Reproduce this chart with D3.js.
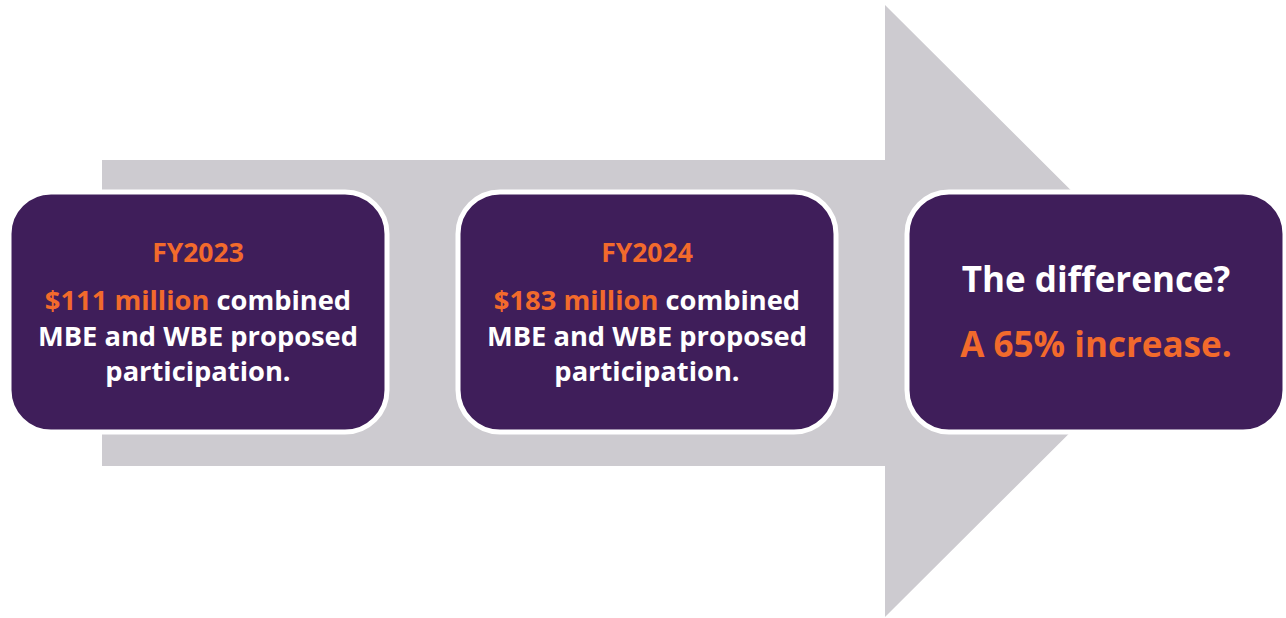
<!DOCTYPE html>
<html>
<head>
<meta charset="utf-8">
<script src="https://cdn.jsdelivr.net/npm/d3@7"></script>
<style>
  body { margin: 0; background: #fff; }
  svg { display: block; }
  text { font-family: "Open Sans", "Noto Sans", sans-serif; font-weight: 700; }
</style>
</head>
<body>
<script>
// stages along the arrow
const STAGES = ["FY2023", "FY2024", "Difference"];
const YEARS = ["FY2023", "FY2024"];
const AMOUNTS = [111, 183];   // $ million, MBE + WBE proposed participation
const INCREASE = [65];        // percent

const W = 1286, H = 618;
const PURPLE = "#3f1e5a", ORANGE = "#f26a2c", GRAY = "#cdcbd0";

const svg = d3.select("body").append("svg")
  .attr("width", W)
  .attr("height", H);

// big gray arrow behind the boxes
const shaft = {x0: 102, x1: 885, y0: 160, y1: 466};
const head = {top: 5, bottom: 617, tip: 1192};
const mid = (head.top + head.bottom) / 2;
svg.append("path")
  .attr("d", d3.line()([
    [shaft.x0, shaft.y0], [shaft.x1, shaft.y0], [shaft.x1, head.top],
    [head.tip, mid], [shaft.x1, head.bottom], [shaft.x1, shaft.y1],
    [shaft.x0, shaft.y1]
  ]) + "Z")
  .attr("fill", GRAY);

// box positions
let x = d3.scalePoint().domain(STAGES).range([198, 1096]);
const boxW = 378, boxH = 240, boxTop = 192;

svg.selectAll(".box")
  .data(STAGES)
  .enter()
  .append("rect")
  .attr("class", "box")
  .attr("x", d => x(d) - boxW / 2)
  .attr("y", boxTop)
  .attr("width", boxW)
  .attr("height", boxH)
  .attr("rx", 42)
  .attr("ry", 42)
  .attr("fill", PURPLE)
  .attr("stroke", "#fff")
  .attr("stroke-width", 5);

// year boxes
YEARS.forEach((yr, i) => {
  const cx = x(STAGES[i]);
  svg.append("text")
    .attr("x", cx).attr("y", 262)
    .attr("text-anchor", "middle")
    .attr("font-size", 26.5)
    .attr("fill", ORANGE)
    .text(yr);

  const t1 = svg.append("text")
    .attr("x", cx).attr("y", 310)
    .attr("text-anchor", "middle")
    .attr("font-size", 27.3);
  t1.append("tspan").attr("fill", ORANGE).text("$" + AMOUNTS[i] + " million");
  t1.append("tspan").attr("fill", "#fff").text(" combined");

  svg.append("text")
    .attr("x", cx).attr("y", 346)
    .attr("text-anchor", "middle")
    .attr("font-size", 27.3)
    .attr("fill", "#fff")
    .text("MBE and WBE proposed");

  svg.append("text")
    .attr("x", cx).attr("y", 381)
    .attr("text-anchor", "middle")
    .attr("font-size", 27.3)
    .attr("fill", "#fff")
    .text("participation.");
});

// the difference box
const cx3 = x(STAGES[2]);
svg.append("text")
  .attr("x", cx3).attr("y", 292)
  .attr("text-anchor", "middle")
  .attr("font-size", 35)
  .attr("fill", "#fff")
  .text("The difference?");

svg.append("text")
  .attr("x", cx3).attr("y", 357)
  .attr("text-anchor", "middle")
  .attr("font-size", 35)
  .attr("fill", ORANGE)
  .text("A " + INCREASE[0] + "% increase.");
</script>
</body>
</html>
